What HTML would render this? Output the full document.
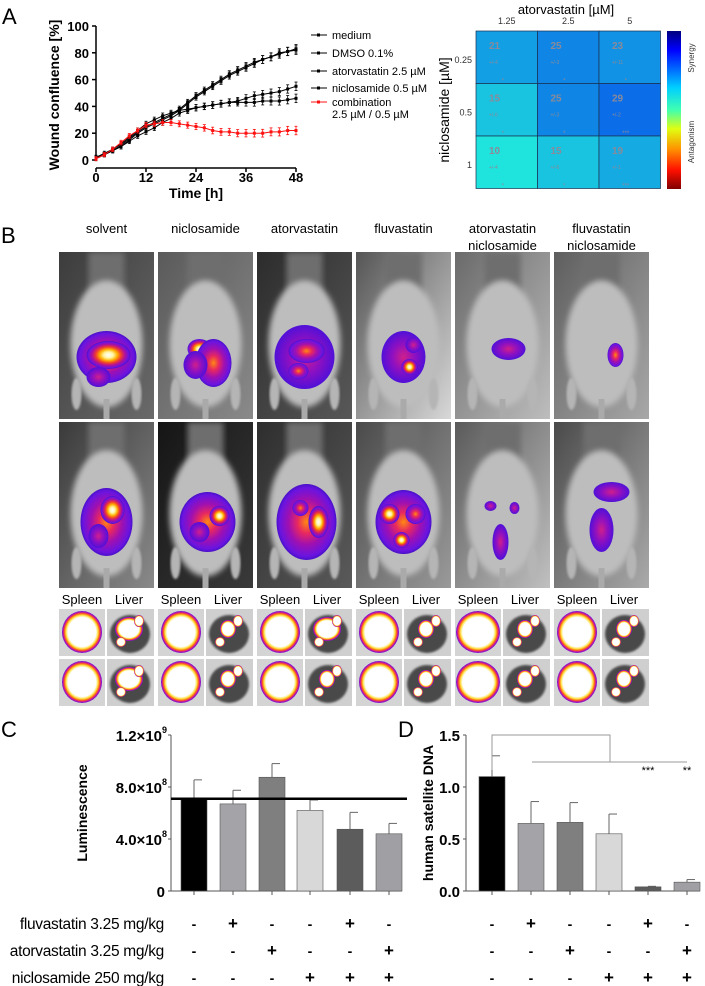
<!DOCTYPE html>
<html><head><meta charset="utf-8">
<style>
html,body{margin:0;padding:0;background:#fff;}
svg{display:block;font-family:"Liberation Sans",Arial,sans-serif;}
</style></head>
<body>
<svg id="fig" width="705" height="986" viewBox="0 0 705 986" xmlns="http://www.w3.org/2000/svg">
<defs>
  <radialGradient id="hot" cx="50%" cy="50%" r="50%">
    <stop offset="0" stop-color="#ffffff"/>
    <stop offset="0.22" stop-color="#fff4a0"/>
    <stop offset="0.4" stop-color="#ffb000"/>
    <stop offset="0.58" stop-color="#f03c30"/>
    <stop offset="0.75" stop-color="#b0109a"/>
    <stop offset="0.92" stop-color="#6a14e0"/>
    <stop offset="1" stop-color="#4a10c8"/>
  </radialGradient>
  <radialGradient id="mid" cx="50%" cy="50%" r="50%">
    <stop offset="0" stop-color="#ff8a10"/>
    <stop offset="0.3" stop-color="#e82860"/>
    <stop offset="0.6" stop-color="#a010b0"/>
    <stop offset="0.9" stop-color="#6a14e0"/>
    <stop offset="1" stop-color="#4a10c8"/>
  </radialGradient>
  <radialGradient id="cool" cx="50%" cy="50%" r="50%">
    <stop offset="0" stop-color="#d0208a"/>
    <stop offset="0.5" stop-color="#9010c0"/>
    <stop offset="1" stop-color="#5010d8"/>
  </radialGradient>
  <radialGradient id="organ" cx="50%" cy="50%" r="50%">
    <stop offset="0" stop-color="#ffffff"/>
    <stop offset="0.7" stop-color="#ffffff"/>
    <stop offset="0.8" stop-color="#ffe040"/>
    <stop offset="0.87" stop-color="#ff7010"/>
    <stop offset="0.93" stop-color="#d01890"/>
    <stop offset="1" stop-color="#6a14e0"/>
  </radialGradient>
  <linearGradient id="jet" x1="0" y1="0" x2="0" y2="1">
    <stop offset="0" stop-color="#00007f"/>
    <stop offset="0.12" stop-color="#0000ff"/>
    <stop offset="0.36" stop-color="#00d0ff"/>
    <stop offset="0.5" stop-color="#40ffb0"/>
    <stop offset="0.62" stop-color="#e0ff10"/>
    <stop offset="0.75" stop-color="#ff9000"/>
    <stop offset="0.88" stop-color="#ff1000"/>
    <stop offset="1" stop-color="#800000"/>
  </linearGradient>
  <filter id="blur3"><feGaussianBlur stdDeviation="3"/></filter>
  <filter id="blur1"><feGaussianBlur stdDeviation="1"/></filter>
</defs>

<!-- Panel A -->
<text x="2" y="24" font-size="22">A</text>
<g id="lineChart"></g>
<text transform="translate(59,95) rotate(-90)" text-anchor="middle" font-size="14" font-weight="bold">Wound confluence [%]</text>
<text x="196" y="198" text-anchor="middle" font-size="14" font-weight="bold">Time [h]</text>
<g id="legendA"></g>

<!-- heatmap -->
<text x="566" y="14" text-anchor="middle" font-size="13">atorvastatin [µM]</text>
<text transform="translate(449,110) rotate(-90)" text-anchor="middle" font-size="14">niclosamide [µM]</text>
<g id="heatmap"></g>
<rect x="667" y="31" width="14" height="158" fill="url(#jet)"/>
<text transform="translate(694,58) rotate(-90)" text-anchor="middle" font-size="8" fill="#333">Synergy</text>
<text transform="translate(694,142) rotate(-90)" text-anchor="middle" font-size="8" fill="#333">Antagonism</text>

<!-- Panel B -->
<text x="1" y="243" font-size="22">B</text>
<g id="panelB"></g>

<!-- Panel C -->
<text x="1" y="737" font-size="22">C</text>
<g id="barC"></g>
<text transform="translate(87,813) rotate(-90)" text-anchor="middle" font-size="14" font-weight="bold">Luminescence</text>

<!-- Panel D -->
<text x="398" y="737" font-size="22">D</text>
<g id="barD"></g>
<text transform="translate(433,813) rotate(-90)" text-anchor="middle" font-size="14" font-weight="bold">human satellite DNA</text>

<g id="treat"></g>
</svg>

<script>
// ---------- Panel A data ----------
const timesA = [0,2,4,6,8,10,12,14,16,18,20,22,24,26,28,30,32,34,36,38,40,42,44,46,48];
const medium = [2,4,7,11,16,21,25,28,31,34,38,43,48,52,56,60,64,67,70,73,75,77,80,81,83];
const dmso = [1,4,7,10,15,20,24,27,30,33,37,42,47,51,55,59,63,66,69,72,75,77,79,81,82];
const atorva = [1,4,7,10,14,18,21,24,28,31,35,37,39,40,41,42,43,44,46,48,49,50,51,53,55];
const niclo = [2,5,8,12,17,22,27,30,33,35,37,38,39,40,41,42,43,43,43,43,44,44,44,45,46];
const combo = [1,4,8,13,18,22,26,27,28,28,27,26,25,24,22,21,21,20,20,20,20,21,21,22,22];
const seriesA = [medium,dmso,atorva,niclo,combo];
const seriesNames = ["medium","DMSO 0.1%","atorvastatin 2.5 µM","niclosamide 0.5 µM","combination"];
const yTicksA = [0,20,40,60,80,100];
const xTicksA = [0,12,24,36,48];

// ---------- heatmap data ----------
const hmCols = ["1.25","2.5","5"];
const hmRows = ["0.25","0.5","1"];
const hmValues = [[21,25,23],[15,25,29],[10,15,19]];
const hmErr = ["+/-4","+/-3","+/-11","+/-6","+/-3","+/-2","+/-4","+/-6","+/-1"];
const hmStars = ["*","*","*","*","*","***","*","*","***"];

// ---------- Panel C/D data ----------
const lumValues = [7.1e8,6.7e8,8.75e8,6.2e8,4.75e8,4.4e8];
const lumErr = [8.55e8,7.75e8,9.8e8,7.0e8,6.05e8,5.2e8];
const lumRef = 7.1e8;
const lumTicks = [0,4e8,8e8,1.2e9];
const lumTickLabels = ["0","4.0×10","8.0×10","1.2×10"];
const lumTickExp = ["","8","8","9"];
const dnaValues = [1.1,0.65,0.66,0.55,0.04,0.085];
const dnaErr = [1.3,0.86,0.85,0.74,0.045,0.11];
const dnaTicks = [0,0.5,1.0,1.5];
const dnaTickLabels = ["0.0","0.5","1.0","1.5"];
const barColors = ["#000000","#a3a3a8","#7f7f7f","#d8d8d8","#5c5c5c","#a0a0a4"];
const fluv = ["-","+","-","-","+","-"];
const atorv = ["-","-","+","-","-","+"];
const niclos = ["-","-","-","+","+","+"];

const NS="http://www.w3.org/2000/svg";
function mk(tag,attrs,parent){const e=document.createElementNS(NS,tag);for(const k in attrs)e.setAttribute(k,attrs[k]);if(parent)parent.appendChild(e);return e;}

// ---------- Line chart ----------
(function(){
  const g=document.getElementById('lineChart');
  const x=t=>96+t/48*200, y=v=>160-v/100*134;
  mk('line',{x1:96,y1:26,x2:96,y2:160,stroke:'#000','stroke-width':1.5},g);
  mk('line',{x1:96,y1:168,x2:296,y2:168,stroke:'#000','stroke-width':1.5},g);
  yTicksA.forEach(v=>{
    mk('line',{x1:92,y1:y(v),x2:96,y2:y(v),stroke:'#000','stroke-width':1.5},g);
    const t=mk('text',{x:89,y:y(v)+5,'text-anchor':'end','font-size':13,'font-weight':'bold'},g);
    
    
    t.textContent=v;
  });
  xTicksA.forEach(v=>{
    mk('line',{x1:x(v),y1:168,x2:x(v),y2:172,stroke:'#000','stroke-width':1.5},g);
    const t=mk('text',{x:x(v),y:182,'text-anchor':'middle','font-size':13,'font-weight':'bold'},g);
    
    
    t.textContent=v;
  });
  seriesA.forEach((s,i)=>{
    const col=i===4?'#ff1010':'#000';
    const p=mk('polyline',{points:s.map((v,j)=>x(timesA[j])+','+y(v)).join(' '),fill:'none',stroke:col,'stroke-width':1},g);
    
    
    s.forEach((v,j)=>{
      const cx=x(timesA[j]),cy=y(v),e=1.5+j*0.07;
      mk('line',{x1:cx,y1:y(v+e),x2:cx,y2:y(v-e),stroke:col,'stroke-width':0.8},g);
      mk('line',{x1:cx-1.5,y1:y(v+e),x2:cx+1.5,y2:y(v+e),stroke:col,'stroke-width':0.8},g);
      mk('line',{x1:cx-1.5,y1:y(v-e),x2:cx+1.5,y2:y(v-e),stroke:col,'stroke-width':0.8},g);
      const m=mk('rect',{x:cx-1.5,y:cy-1.5,width:3,height:3,fill:col},g);
      
      
    });
  });
  const lg=document.getElementById('legendA');
  const ly=[35,53,71,88,102];
  seriesNames.forEach((n,i)=>{
    const col=i===4?'#ff1010':'#000';
    mk('line',{x1:311,y1:ly[i],x2:327,y2:ly[i],stroke:col,'stroke-width':1},lg);
    mk('rect',{x:317,y:ly[i]-1.5,width:3,height:3,fill:col},lg);
    const t=mk('text',{x:332,y:ly[i]+4,'font-size':11},lg);
    
    
    t.textContent=n;
  });
  const t2=mk('text',{x:332,y:118,'font-size':11},lg);
  
  
  t2.textContent='2.5 µM / 0.5 µM';
})();

// ---------- heatmap ----------
(function(){
  const g=document.getElementById('heatmap');
  const x0=476,y0=31,cw=61.5,ch=52.5;
  function color(v){
    const f=Math.min(1,Math.max(0,(v-8)/24));
    const r=Math.round(32-24*f), gg=Math.round(240-150*f), b=Math.round(220+12*f);
    return `rgb(${r},${gg},${b})`;
  }
  hmCols.forEach((c,j)=>{
    const t=mk('text',{x:x0+cw*j+cw/2,y:24,'text-anchor':'middle','font-size':9,fill:'#333'},g);
    
    
    t.textContent=c;
  });
  hmRows.forEach((r,i)=>{
    const t=mk('text',{x:472,y:y0+ch*i+32,'text-anchor':'end','font-size':9,fill:'#333'},g);
    
    
    t.textContent=r;
    hmValues[i].forEach((v,j)=>{
      const cx=x0+cw*j, cy=y0+ch*i;
      const rc=mk('rect',{x:cx,y:cy,width:cw,height:ch,fill:color(v),stroke:'#1a3050','stroke-width':0.7},g);
      
      
      const tv=mk('text',{x:cx+13,y:cy+18,'font-size':10,fill:'#8a8a9a','font-weight':'bold'},g);
      
      
      tv.textContent=v;
      const te=mk('text',{x:cx+13,y:cy+33,'font-size':5,fill:'#8a8a9a'},g);
      
      
      te.textContent=hmErr[i*3+j];
      const ts=mk('text',{x:cx+cw/2-4,y:cy+ch-1,'text-anchor':'middle','font-size':6,fill:'#8a8a9a'},g);
      
      
      ts.textContent=hmStars[i*3+j];
    });
  });
})();

// ---------- Panel B (imaging) ----------
(function(){
  const g=document.getElementById('panelB');
  const colX=[59,158,257,356,455,554], W=95;
  const heads=[["solvent"],["niclosamide"],["atorvastatin"],["fluvastatin"],["atorvastatin","niclosamide"],["fluvastatin","niclosamide"]];
  const bg=[["#3c3c3c","#6a6a6a"],["#5a5a5a","#8a8a8a"],["#2c2c2c","#585858"],["#555","#d8d8d8"],["#6a6a6a","#bdbdbd"],["#5e5e5e","#a8a8a8"]];
  const bg2=[["#3a3a3a","#8a8a8a"],["#151515","#3a3a3a"],["#2e2e2e","#5a5a5a"],["#4a4a4a","#9a9a9a"],["#5a5a5a","#c0c0c0"],["#4a4a4a","#aaaaaa"]];
  const blobs1=[
    [[0,0,30,26,'mid'],[2,-2,22,14,'hot'],[-8,20,12,10,'cool']],
    [[-6,-8,12,10,'hot'],[8,6,18,24,'mid'],[-10,8,12,14,'cool']],
    [[0,0,30,32,'cool'],[2,-6,18,12,'mid'],[-6,14,10,8,'mid']],
    [[0,0,22,26,'cool'],[6,10,8,8,'hot'],[10,-12,8,8,'cool']],
    [[6,-8,17,11,'cool']],
    [[14,-2,8,12,'mid']]
  ];
  const blobs2=[
    [[0,0,26,34,'mid'],[6,-12,12,14,'hot'],[-8,14,10,12,'cool']],
    [[2,0,28,30,'mid'],[14,-6,10,10,'hot'],[-6,10,10,10,'cool']],
    [[2,0,30,38,'mid'],[14,0,10,16,'hot'],[-4,-14,8,8,'mid']],
    [[0,0,28,32,'mid'],[-14,-8,10,10,'hot'],[12,-8,10,10,'mid'],[-2,18,8,8,'hot']],
    [[-2,20,8,18,'cool'],[-12,-16,6,5,'cool'],[12,-14,5,6,'cool']],
    [[10,-30,18,10,'cool'],[0,8,12,22,'cool']]
  ];
  function photo(x,y,h,c,bl,cyB){
    const grp=mk('g',{},g);
    
    
    const gid='pg'+x+'_'+y;
    const lg=mk('linearGradient',{id:gid,x1:0,y1:0,x2:1,y2:1},grp);
    mk('stop',{offset:0,'stop-color':c[0]},lg);mk('stop',{offset:1,'stop-color':c[1]},lg);
    mk('rect',{x:x,y:y,width:W,height:h,fill:'url(#'+gid+')'},grp);
    const cp='cp'+gid; const clip=mk('clipPath',{id:cp},grp); mk('rect',{x:x,y:y,width:W,height:h},clip);
    const inner=mk('g',{'clip-path':'url(#'+cp+')'},grp);
    mk('rect',{x:x+W/2-18,y:y,width:36,height:h*0.3,fill:'#6e6e6e',filter:'url(#blur3)'},inner);
    mk('ellipse',{cx:x+W/2,cy:y+h*0.55,rx:36,ry:h*0.38,fill:'#bdbdbd',filter:'url(#blur3)'},inner);
    mk('ellipse',{cx:x+W/2-30,cy:y+h*0.85,rx:5,ry:16,fill:'#b5b5b5',filter:'url(#blur1)'},inner);
    mk('ellipse',{cx:x+W/2+30,cy:y+h*0.85,rx:5,ry:16,fill:'#b5b5b5',filter:'url(#blur1)'},inner);
    mk('rect',{x:x+W/2-3,y:y+h*0.88,width:6,height:h*0.12,fill:'#aaa'},inner);
    bl.forEach(b=>{
      const e=mk('ellipse',{cx:x+W/2+b[0],cy:cyB+b[1],rx:b[2],ry:b[3],fill:'url(#'+b[4]+')'},inner);
      
      
    });
  }
  colX.forEach((x,i)=>{
    photo(x,252,167,bg[i],blobs1[i],252+105);
    photo(x,422,166,bg2[i],blobs2[i],422+100);
    ['Spleen','Liver'].forEach((s,k)=>{
      const t=mk('text',{x:x+(k?70:23),y:604,'text-anchor':'middle','font-size':13},g);
      
      
      t.textContent=s;
    });
    [609,659].forEach((oy,r)=>{
      const sp=mk('g',{},g);
      
      
      mk('rect',{x:x,y:oy,width:46,height:47,fill:'#d4d4d4'},sp);
      mk('ellipse',{cx:x+23,cy:oy+23,rx:20-(i===4?-2:0),ry:21,fill:'url(#organ)'},sp);
      const lv=mk('g',{},g);
      
      
      mk('rect',{x:x+48,y:oy,width:47,height:47,fill:'#cfcfcf'},lv);
      mk('ellipse',{cx:x+71,cy:oy+25,rx:20,ry:19,fill:'#4a4a4a',filter:'url(#blur1)'},lv);
      const big=(i===0||i===2&&r===0);
      mk('ellipse',{cx:x+70,cy:oy+20,rx:big?14:8,ry:big?12:9,fill:'url(#organ)'},lv);
      mk('ellipse',{cx:x+80,cy:oy+12,rx:5,ry:6,fill:'url(#organ)'},lv);
      mk('ellipse',{cx:x+62,cy:oy+33,rx:5,ry:5,fill:'url(#organ)'},lv);
    });
  });
  heads.forEach((h,i)=>{
    h.forEach((s,k)=>{
      const t=mk('text',{x:colX[i]+W/2,y:233+k*17,'text-anchor':'middle','font-size':13},g);
      
      
      t.textContent=s;
    });
  });
})();

// ---------- Bar charts ----------
function barChart(gid,x0,xEnd,centers,vals,errs,maxV,ticks,labels,exps){
  const g=document.getElementById(gid);
  const y=v=>891-v/maxV*156;
  mk('line',{x1:x0,y1:735,x2:x0,y2:891,stroke:'#555','stroke-width':1},g);
  mk('line',{x1:x0,y1:891,x2:xEnd,y2:891,stroke:'#555','stroke-width':1},g);
  ticks.forEach((v,i)=>{
    mk('line',{x1:x0-3,y1:y(v),x2:x0,y2:y(v),stroke:'#555'},g);
    const t=mk('text',{x:x0-(exps&&exps[i]?9:6),y:y(v)+6,'text-anchor':'end','font-size':15,'font-weight':'bold'},g);
    
    
    t.textContent=labels[i];
    if(exps&&exps[i]){
      const s=mk('text',{x:x0-9,y:y(v)-2,'font-size':9,'font-weight':'bold'},g);
      
      
      s.textContent=exps[i];
    }
  });
  vals.forEach((v,i)=>{
    const cx=centers[i];
    mk('line',{x1:cx,y1:891,x2:cx,y2:895,stroke:'#555'},g);
    mk('line',{x1:cx,y1:y(v),x2:cx,y2:y(errs[i]),stroke:'#666'},g);
    mk('line',{x1:cx,y1:y(errs[i]),x2:cx+8,y2:y(errs[i]),stroke:'#666'},g);
    const b=mk('rect',{x:cx-13,y:y(v),width:26,height:891-y(v),fill:barColors[i],stroke:'#555','stroke-width':0.6},g);
    
    
  });
  return y;
}
const centersC=[194,233,272,310,350,389];
const centersD=[492,531,570,609,648,687];
const yC=barChart('barC',171,402,centersC,lumValues,lumErr,1.2e9,lumTicks,lumTickLabels,lumTickExp);
(function(){
  const g=document.getElementById('barC');
  const l=mk('line',{x1:171,y1:yC(lumRef),x2:407,y2:yC(lumRef),stroke:'#000','stroke-width':2.5},g);
  
  
})();
barChart('barD',466,700,centersD,dnaValues,dnaErr,1.5,dnaTicks,dnaTickLabels,null);
(function(){
  const g=document.getElementById('barD');
  const br=mk('path',{d:'M492,770 V735 H610 V762 M532,762 H687',fill:'none',stroke:'#999','stroke-width':1},g);
  
  
  [['***',648],['**',687]].forEach(s=>{
    const t=mk('text',{x:s[1],y:774,'text-anchor':'middle','font-size':11},g);
    
    
    t.textContent=s[0];
  });
})();

// ---------- treatment table ----------
(function(){
  const g=document.getElementById('treat');
  const rows=[['fluvastatin 3.25 mg/kg',fluv,924],['atorvastatin 3.25 mg/kg',atorv,951],['niclosamide 250 mg/kg',niclos,978]];
  rows.forEach(r=>{
    const t=mk('text',{x:164,y:r[2]+5,'text-anchor':'end','font-size':15.5,'letter-spacing':'-0.3'},g);
    
    
    t.textContent=r[0];
    [centersC,centersD].forEach(cs=>{
      r[1].forEach((s,i)=>{
        const m=mk('text',{x:cs[i],y:r[2]+5,'text-anchor':'middle','font-size':s==='+'?17:14,'font-weight':'bold'},g);
        
        
        m.textContent=s;
      });
    });
  });
})();
</script>
</body></html>
